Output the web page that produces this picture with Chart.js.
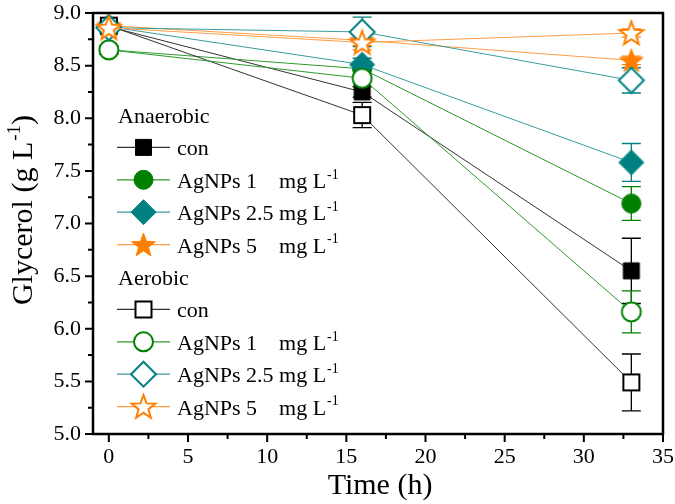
<!DOCTYPE html>
<html>
<head>
<meta charset="utf-8">
<script src="https://cdn.jsdelivr.net/npm/chart.js@4"></script>
<style>
  html, body { margin: 0; padding: 0; background: #fff; }
  #wrap { width: 675px; height: 504px; }
</style>
</head>
<body>
<div id="wrap"><canvas id="myChart" width="675" height="504"></canvas></div>
<script>
const times = [0, 16, 33];
const xTicks = [0, 5, 10, 15, 20, 25, 30, 35];
const yTicks = [5.0, 5.5, 6.0, 6.5, 7.0, 7.5, 8.0, 8.5, 9.0];

// anaerobic
const anConY = [8.87, 8.25, 6.55];
const anConErr = [0.03, 0.05, 0.31];
const an1Y = [8.65, 8.47, 7.19];
const an1Err = [0.04, 0.06, 0.16];
const an25Y = [8.87, 8.51, 7.58];
const an25Err = [0.04, 0.06, 0.18];
const an5Y = [8.88, 8.74, 8.55];
const an5Err = [0.03, 0.05, 0.04];
// aerobic
const aeConY = [8.88, 8.03, 5.49];
const aeConErr = [0.03, 0.12, 0.27];
const ae1Y = [8.65, 8.38, 6.16];
const ae1Err = [0.04, 0.08, 0.2];
const ae25Y = [8.86, 8.82, 8.36];
const ae25Err = [0.04, 0.14, 0.12];
const ae5Y = [8.86, 8.72, 8.81];
const ae5Err = [0.03, 0.07, 0.04];

const FONT = "'Liberation Serif', 'Times New Roman', serif";
const BLACK = '#000000', GREEN = '#008000', TEAL = '#008080', ORANGE = '#ff8000';

function drawMarker(ctx, shape, filled, color, cx, cy) {
    ctx.save();
    ctx.beginPath();
    if (shape === 'square') {
        ctx.rect(cx - 8, cy - 8, 16, 16);
    } else if (shape === 'circle') {
        ctx.arc(cx, cy, 9.5, 0, Math.PI * 2);
    } else if (shape === 'diamond') {
        ctx.moveTo(cx, cy - 12.5);
        ctx.lineTo(cx + 12.5, cy);
        ctx.lineTo(cx, cy + 12.5);
        ctx.lineTo(cx - 12.5, cy);
        ctx.closePath();
    } else {
        for (let k = 0; k < 10; k++) {
            const r = k % 2 === 0 ? 12.5 : 5.2;
            const a = -Math.PI / 2 + k * Math.PI / 5;
            const px = cx + r * Math.cos(a), py = cy + 1 + r * Math.sin(a);
            if (k === 0) ctx.moveTo(px, py); else ctx.lineTo(px, py);
        }
        ctx.closePath();
    }
    ctx.fillStyle = filled ? color : '#ffffff';
    ctx.fill();
    ctx.lineWidth = filled ? 1 : 2;
    ctx.strokeStyle = color;
    ctx.stroke();
    ctx.restore();
}

function markerImage(shape, filled, color) {
    const c = document.createElement('canvas');
    c.width = 30; c.height = 30;
    drawMarker(c.getContext('2d'), shape, filled, color, 15, 15);
    return c;
}

const series = [
    { label: 'con', y: anConY, err: anConErr, shape: 'square', filled: true, color: BLACK, line: '#333333' },
    { label: 'AgNPs 1', y: an1Y, err: an1Err, shape: 'circle', filled: true, color: GREEN, line: '#2f9a2f' },
    { label: 'AgNPs 2.5', y: an25Y, err: an25Err, shape: 'diamond', filled: true, color: TEAL, line: '#3a9c9c' },
    { label: 'AgNPs 5', y: an5Y, err: an5Err, shape: 'star', filled: true, color: ORANGE, line: '#ff9d45' },
    { label: 'con', y: aeConY, err: aeConErr, shape: 'square', filled: false, color: BLACK, line: '#333333' },
    { label: 'AgNPs 1', y: ae1Y, err: ae1Err, shape: 'circle', filled: false, color: GREEN, line: '#2f9a2f' },
    { label: 'AgNPs 2.5', y: ae25Y, err: ae25Err, shape: 'diamond', filled: false, color: TEAL, line: '#3a9c9c' },
    { label: 'AgNPs 5', y: ae5Y, err: ae5Err, shape: 'star', filled: false, color: ORANGE, line: '#ff9d45' },
];

const datasets = series.map((s, i) => ({
    label: s.label,
    data: times.map((t, j) => ({ x: t, y: s.y[j] })),
    borderColor: s.line,
    borderWidth: 1,
    pointStyle: markerImage(s.shape, s.filled, s.color),
    pointRadius: 12,
    fill: false,
    tension: 0,
    clip: false,
    order: series.length - i,
}));

const errorBars = {
    id: 'errorBars',
    beforeDatasetsDraw(chart) {
        const ctx = chart.ctx;
        const yScale = chart.scales.y;
        ctx.save();
        ctx.lineWidth = 1.3;
        series.forEach((s, i) => {
            const meta = chart.getDatasetMeta(i);
            meta.data.forEach((pt, j) => {
                const top = yScale.getPixelForValue(s.y[j] + s.err[j]);
                const bot = yScale.getPixelForValue(s.y[j] - s.err[j]);
                ctx.strokeStyle = s.color;
                ctx.beginPath();
                ctx.moveTo(pt.x, top); ctx.lineTo(pt.x, bot);
                ctx.moveTo(pt.x - 9.5, top); ctx.lineTo(pt.x + 9.5, top);
                ctx.moveTo(pt.x - 9.5, bot); ctx.lineTo(pt.x + 9.5, bot);
                ctx.stroke();
            });
        });
        ctx.restore();
    }
};

function supText(ctx, x, y, size) {
    // "mg L" with a raised -1
    ctx.font = size + 'px ' + FONT;
    ctx.fillText('mg L', x, y);
    const w = ctx.measureText('mg L').width;
    ctx.font = Math.round(size * 0.62) + 'px ' + FONT;
    ctx.fillText('-1', x + w + 1, y - size * 0.42);
}

const frameAndLegend = {
    id: 'frameAndLegend',
    afterDraw(chart) {
        const ctx = chart.ctx;
        const a = chart.chartArea;
        const xs = chart.scales.x, ys = chart.scales.y;
        ctx.save();
        // tick marks, outward, minor ones shorter
        ctx.strokeStyle = '#000';
        ctx.lineWidth = 2;
        ctx.beginPath();
        for (let v = 0; v <= 35; v += 2.5) {
            const px = xs.getPixelForValue(v);
            const len = v % 5 === 0 ? 8 : 5;
            ctx.moveTo(px, a.bottom); ctx.lineTo(px, a.bottom + len);
        }
        for (let v = 5; v <= 9; v += 0.25) {
            const py = ys.getPixelForValue(v);
            const len = Math.abs(v * 2 - Math.round(v * 2)) < 1e-6 ? 8 : 5;
            ctx.moveTo(a.left, py); ctx.lineTo(a.left - len, py);
        }
        ctx.stroke();
        ctx.lineWidth = 2.5;
        ctx.strokeRect(a.left, a.top, a.right - a.left, a.bottom - a.top);

        // axis titles
        ctx.fillStyle = '#000';
        ctx.textBaseline = 'alphabetic';
        ctx.font = '30px ' + FONT;
        ctx.textAlign = 'center';
        ctx.fillText('Time (h)', 380, 494);

        ctx.save();
        ctx.translate(32, 210);
        ctx.rotate(-Math.PI / 2);
        ctx.textAlign = 'left';
        ctx.font = '30px ' + FONT;
        const t1 = 'Glycerol (g L';
        const w1 = ctx.measureText(t1).width;
        ctx.font = '19px ' + FONT;
        const w2 = ctx.measureText('-1').width;
        ctx.font = '30px ' + FONT;
        const w3 = ctx.measureText(')').width;
        const start = -(w1 + w2 + w3 + 1) / 2;
        ctx.fillText(t1, start, 0);
        ctx.font = '19px ' + FONT;
        ctx.fillText('-1', start + w1 + 1, -12);
        ctx.font = '30px ' + FONT;
        ctx.fillText(')', start + w1 + w2 + 1, 0);
        ctx.restore();

        // legend with group headings
        const rowStep = 32.4;
        let y = 115;
        const lx0 = 117, lx1 = 170, mx = 143.5, tx = 177;
        ctx.textAlign = 'left';
        ctx.font = '22px ' + FONT;
        const mgX = tx + ctx.measureText('AgNPs 2.5 ').width;
        ['Anaerobic', 'Aerobic'].forEach((g, gi) => {
            ctx.font = '22px ' + FONT;
            ctx.fillStyle = '#000';
            ctx.fillText(g, 118, y + 8);
            y += rowStep;
            for (let k = 0; k < 4; k++) {
                const s = series[gi * 4 + k];
                ctx.strokeStyle = s.line;
                ctx.lineWidth = 1.2;
                ctx.beginPath();
                ctx.moveTo(lx0, y); ctx.lineTo(lx1, y);
                ctx.stroke();
                drawMarker(ctx, s.shape, s.filled, s.color, mx, y);
                ctx.fillStyle = '#000';
                ctx.font = '22px ' + FONT;
                ctx.fillText(s.label, tx, y + 8);
                if (k > 0) supText(ctx, mgX, y + 8, 22);
                y += rowStep;
            }
        });
        ctx.restore();
    }
};

const config = {
    type: 'line',
    data: { datasets: datasets },
    options: {
        responsive: false,
        animation: false,
        events: [],
        layout: { autoPadding: false, padding: { top: 13, right: 12, left: 0, bottom: 0 } },
        plugins: {
            legend: { display: false },
            tooltip: { enabled: false },
        },
        scales: {
            x: {
                type: 'linear',
                min: -1,
                max: 35,
                afterBuildTicks: (scale) => { scale.ticks = xTicks.map(v => ({ value: v })); },
                afterFit: (scale) => {
                    scale.height = 70;
                    scale.paddingLeft = 0;
                    scale.paddingRight = 0;
                },
                ticks: {
                    color: '#000',
                    font: { family: FONT, size: 22 },
                    padding: 10,
                    maxRotation: 0,
                    autoSkip: false,
                },
                grid: { display: false, drawTicks: false },
                border: { display: false },
            },
            y: {
                type: 'linear',
                min: 5,
                max: 9,
                afterBuildTicks: (scale) => { scale.ticks = yTicks.map(v => ({ value: v })); },
                afterFit: (scale) => {
                    scale.width = 93;
                    scale.paddingTop = 0;
                    scale.paddingBottom = 0;
                },
                ticks: {
                    color: '#000',
                    font: { family: FONT, size: 22 },
                    padding: 12,
                    autoSkip: false,
                    callback: (v) => Number(v).toFixed(1),
                },
                grid: { display: false, drawTicks: false },
                border: { display: false },
            }
        }
    },
    plugins: [errorBars, frameAndLegend]
};

const myChart = new Chart(document.getElementById('myChart'), config);
</script>
</body>
</html>
